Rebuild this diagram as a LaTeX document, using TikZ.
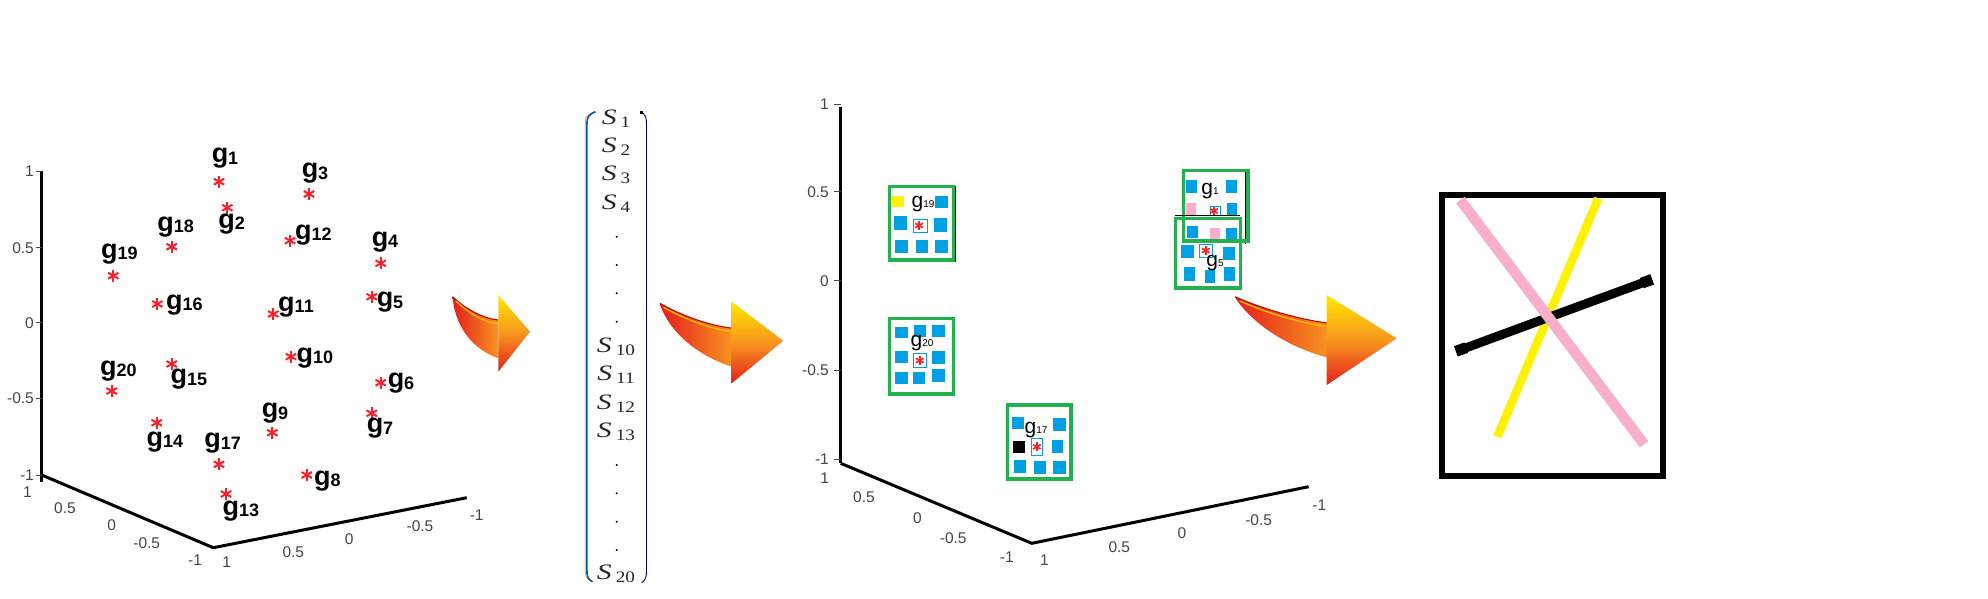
\documentclass[tikz,border=0pt]{standalone}
\usepackage{graphicx}
\usepackage{fontspec}
\setmainfont{Liberation Serif}
\newfontfamily\arialf{Liberation Sans}
\definecolor{sqblue}{RGB}{0,160,227}
\definecolor{boxgreen}{RGB}{34,177,76}
\definecolor{pinkc}{RGB}{249,174,203}
\definecolor{yelc}{RGB}{255,242,0}
\definecolor{starred}{RGB}{255,30,40}
\definecolor{arrred}{RGB}{228,30,30}
\definecolor{arrorange}{RGB}{248,150,30}
\definecolor{arryellow}{RGB}{255,232,0}
\definecolor{tickgray}{RGB}{70,70,70}
\definecolor{parblue}{RGB}{0,90,180}
\newcommand\starlines[2]{%
  \foreach \ang in {90,30,150}{\draw[starred,line width=#2]
    ([shift={(\ang:#1)}]path picture bounding box.center) --
    ([shift={(\ang+180:#1)}]path picture bounding box.center);}}
\newcommand\gtxt[1]{{\fontsize{27}{27}\selectfont g}{\fontsize{18}{18}\selectfont\raisebox{-1.5pt}{#1}}}
\newcommand\gsm[1]{{\fontsize{21}{21}\selectfont g}{\fontsize{10}{10}\selectfont #1}}
\newcommand\sent[1]{{\fontsize{22}{22}\selectfont\scalebox{1.35}[1]{\itshape S}}\hspace{4pt}{\fontsize{16}{16}\selectfont\raisebox{-3pt}{\scalebox{1.2}[1]{#1}}}}
\tikzset{
  axisline/.style={line width=3pt, black},
  ticklab/.style={inner sep=0pt, text=tickgray, font=\arialf\fontsize{15.5}{15.5}\selectfont},
  tickmark/.style={line width=0.8pt, tickgray},
  glabel/.style={inner sep=0pt, font=\arialf\bfseries},
  gsmall/.style={inner sep=0pt, font=\arialf},
  bigstar/.style={circle, inner sep=0pt, minimum size=13pt, path picture={\starlines{6pt}{2pt}}},
  tinystar/.style={rectangle, inner sep=0pt, minimum size=9pt, path picture={\starlines{4.5pt}{1.6pt}}},
  centbox/.style={draw=sqblue, line width=1pt},
  gbox/.style={draw=boxgreen, line width=3.4pt},
  sent/.style={inner sep=0pt, text=black!85},
  arrowshaft/.style={left color=arrred, right color=arrorange},
  arrowhead/.style={top color=arryellow, bottom color=arrred, middle color=arrorange},
  arrowshine/.style={line width=1.3pt, arryellow!60!orange, line cap=round},
  arrowedge/.style={line width=1pt, red!75!black},
}
\begin{document}
\begin{tikzpicture}[x=1pt,y=-1pt]
\useasboundingbox (0,0) rectangle (1988,598);
\fill[white] (0,0) rectangle (1988,598);

%% ---------------- Panel 1 ----------------
\coordinate (p1top) at (41.7,171);
\coordinate (p1bot) at (41.7,482);
\coordinate (p1l) at (41.7,475);
\coordinate (p1c) at (213.3,547.7);
\coordinate (p1r) at (466.7,497.7);
\draw[axisline] (p1top) -- (p1bot);
\draw[axisline] (p1l) -- (p1c) -- (p1r);
\foreach \t/\y in {1/171,0.5/247.7,0/322.7,-0.5/398,-1/475}{
  \draw[tickmark] (36,\y) -- (41.7,\y);
  \node[ticklab, anchor=east] at (34,\y) {\t};
}
\foreach \t/\x/\y in {1/27.5/492,0.5/65/508.3,0/111.7/525,-0.5/146.7/543.3,-1/195/560}{
  \node[ticklab] at (\x,\y) {\t};
}
\foreach \t/\x/\y in {1/226.7/561.7,0.5/293.3/551.7,0/349.3/539,-0.5/420/526,-1/476.7/515}{
  \node[ticklab] at (\x,\y) {\t};
}
\foreach \i/\sx/\sy/\lx/\ly in {
  1/219/181.7/225/158.3, 2/227.3/207.7/231.7/224, 3/309/194/315/173.3,
  4/380.7/263.3/385/241.7, 5/371.7/296.7/390/302.3, 6/380.7/382.7/401/383.3,
  7/371.7/413.3/380/428.3, 8/306.7/475/327.3/480.7, 9/272.3/432.7/275/413.3,
  10/291/356.7/315/357.7, 11/273.3/314/296/306.7, 12/290/240.7/313.3/235,
  13/226/494/241/510.7, 14/156.7/422.7/165/441.7, 15/171.7/364/189/379.3,
  16/157.3/304/184.3/305, 17/219/464.3/222.7/443.3, 18/171.7/246.7/175.7/226.7,
  19/113.3/275.7/119.3/254, 20/111.7/391/118.3/370.7}{
  \node[bigstar] (st\i) at (\sx,\sy) {};
  \node[glabel] (gl\i) at (\lx,\ly) {\gtxt{\i}};
}

%% ---------------- Arrow 1 ----------------
\path[arrowshaft] (452.7,296.7) .. controls (462,306) and (480,318) .. (498.3,320)
  -- (498.3,358.3) .. controls (475,350) and (456,330) .. (452.7,298.5) -- cycle;
\draw[arrowedge] (452.7,296.7) .. controls (462,306) and (480,318) .. (498.3,320);
\draw[arrowshine] (456,301) .. controls (465,310) and (481,321.5) .. (497,323.5);
\path[arrowhead] (498.3,295) -- (530,331.7) -- (498.3,371.7) -- cycle;

%% ---------------- Matrix ----------------
\draw[orange!80, line width=0.8pt] (594.5,111.7) .. controls (586,115) and (585.2,118) .. (585.2,125)
  -- (585.2,570) .. controls (585.2,576) and (586,579) .. (591.5,581.7);
\draw[parblue, line width=1.6pt] (595.5,111.7) .. controls (587.5,115) and (586.9,118) .. (586.9,125)
  -- (586.9,570) .. controls (586.9,576) and (587.5,579) .. (592.5,581.7);
\draw[blue!50!black, line width=0.9pt] (640,111.7) .. controls (646,114) and (646.5,118) .. (646.5,125)
  -- (646.5,570) .. controls (646.5,576) and (646,580) .. (641.7,582.7);
\fill[black] (640,110.5) rectangle (642.5,113.5);
\foreach \lab/\y in {1/118.3,2/146.7,3/175,4/203.3,10/346.7,11/375,12/403.3,13/431.7,20/573.3}{
  \node[sent] (se\lab) at (616,\y) {\sent{\lab}};
}
\foreach \y in {236.7,265,293.3,321.7,465,493.3,521.7,550}{
  \fill[black] (616.7,\y) circle (1.1pt);
}

%% ---------------- Arrow 2 ----------------
\path[arrowshaft] (660,303.3) .. controls (680,315) and (710,326) .. (733.3,328.3)
  -- (731.7,366.7) .. controls (700,356) and (672,336) .. (660,305) -- cycle;
\draw[arrowedge] (660,303.3) .. controls (680,315) and (710,326) .. (733.3,328.3);
\draw[arrowshine] (664,307.5) .. controls (683,318.5) and (711,329) .. (731,331.5);
\path[arrowhead] (731.7,301.7) -- (783.3,340.7) -- (731.7,383.3) -- cycle;

%% ---------------- Panel 3 ----------------
\draw[axisline] (840.7,106.7) -- (840.7,463.3);
\draw[axisline] (840.7,463.3) -- (1031.8,543.3) -- (1308.6,486.7);
\foreach \t/\y in {1/104,0.5/191.7,0/280.7,-0.5/370,-1/459.3}{
  \draw[tickmark] (834,\y) -- (840.7,\y);
  \node[ticklab, anchor=east] at (829,\y) {\t};
}
\foreach \t/\x/\y in {1/824.6/478.3,0.5/863.9/497.3,0/917.5/518.3,-0.5/953.2/538.3,-1/1006.8/556.7}{
  \node[ticklab] at (\x,\y) {\t};
}
\foreach \t/\x/\y in {1/1044.3/560,0.5/1119.3/547.3,0/1181.8/533.3,-0.5/1258.6/520,-1/1319.3/505}{
  \node[ticklab] at (\x,\y) {\t};
}

% box g19
\fill[yelc] (892.3,196) rectangle (904.3,207.3);
\fill[sqblue] (935.3,196) rectangle (948,207.7);
\fill[sqblue] (894.3,216.3) rectangle (907,229.7);
\fill[sqblue] (934,218.3) rectangle (946.7,231.7);
\fill[sqblue] (895.3,240) rectangle (907.7,253.3);
\fill[sqblue] (916,240) rectangle (928.3,253.3);
\fill[sqblue] (935.3,240) rectangle (948,253.3);
\draw[centbox] (913.3,219.3) rectangle (927.7,232.3);
\node[tinystar] (c19) at (919,225.5) {};
\node[gsmall] (b19) at (923,204) {\gsm{19}};
\draw[black, line width=0.8pt] (955.6,185.5) -- (955.6,262);
\draw[gbox] (889.4,186.7) rectangle (953.3,260);

% box g20
\fill[sqblue] (895,327.3) rectangle (907.7,338.3);
\fill[sqblue] (914,325) rectangle (926,337.3);
\fill[sqblue] (932.3,325) rectangle (945,337.3);
\fill[sqblue] (895,351) rectangle (907.7,363.3);
\fill[sqblue] (932.3,351) rectangle (945,364);
\fill[sqblue] (895,371.7) rectangle (907.7,384.3);
\fill[sqblue] (913.3,371.7) rectangle (925,384.3);
\fill[sqblue] (932.3,369) rectangle (945,382.3);
\draw[centbox] (913.3,353.3) rectangle (926,367.3);
\node[tinystar] (c20) at (919.7,360.5) {};
\node[gsmall] (b20) at (922,343) {\gsm{20}};
\draw[gbox] (889.4,318.4) rectangle (953.3,394);

% box g17
\fill[sqblue] (1012.3,416.7) rectangle (1024.3,429.3);
\fill[sqblue] (1053.3,418.3) rectangle (1066,430.7);
\fill[black] (1012.7,441) rectangle (1025.3,453.3);
\fill[sqblue] (1051.7,440) rectangle (1063.3,452.7);
\fill[sqblue] (1014,460) rectangle (1026,472.7);
\fill[sqblue] (1034,461) rectangle (1046,474);
\fill[sqblue] (1052.7,461) rectangle (1066,474);
\draw[centbox] (1031,438.3) rectangle (1042.7,455);
\node[tinystar] (c17) at (1036.8,446.8) {};
\node[gsmall] (b17) at (1036,430) {\gsm{17}};
\draw[black, line width=0.8pt] (1069.5,405) -- (1069.5,479);
\draw[gbox] (1007.7,405) rectangle (1071,479);

% box g1 content
\fill[sqblue] (1186,180) rectangle (1196.7,192.7);
\fill[sqblue] (1226,180) rectangle (1236.7,193.3);
\fill[pinkc] (1186,203.3) rectangle (1196,215.7);
\fill[sqblue] (1227.3,202.7) rectangle (1237.3,215.7);
\draw[centbox] (1210,206) rectangle (1220,215.7);
\node[tinystar] (c1) at (1214,211) {};
\node[gsmall] (b1) at (1210,191) {\gsm{1}};
% box g5 content
\fill[sqblue] (1187.3,226) rectangle (1197.7,237.7);
\fill[pinkc] (1210,228.3) rectangle (1220,240.7);
\fill[sqblue] (1226,228.3) rectangle (1236.7,240.7);
\fill[sqblue] (1181,245) rectangle (1194,257.7);
\fill[sqblue] (1222.7,247.3) rectangle (1235,260);
\fill[sqblue] (1184,267.3) rectangle (1195,280.7);
\fill[sqblue] (1205,270) rectangle (1215,282.7);
\fill[sqblue] (1224,267.3) rectangle (1235,280.7);
\draw[centbox] (1199.3,244.3) rectangle (1212.3,257.3);
\node[tinystar] (c5) at (1205.8,250.5) {};
\node[gsmall] (b5) at (1215,263) {\gsm{5}};
% box frames
\draw[black, line width=1pt] (1245.6,171) -- (1245.6,244);
\draw[gbox] (1183.4,170.7) rectangle (1247.8,241);
\draw[black, line width=1pt] (1175,215.8) -- (1239.5,215.8);
\draw[gbox] (1175.7,218.4) rectangle (1240.3,288);

%% ---------------- Arrow 3 ----------------
\path[arrowshaft] (1235,296.7) .. controls (1260,308) and (1300,320) .. (1330,323.3)
  -- (1330,358.3) .. controls (1290,348) and (1255,326) .. (1236.7,300) -- cycle;
\draw[arrowedge] (1235,296.7) .. controls (1260,308) and (1300,320) .. (1330,323.3);
\draw[arrowshine] (1240,301) .. controls (1264,312) and (1301,323.5) .. (1328,326.5);
\path[arrowhead] (1326.7,295) -- (1396.7,338.3) -- (1326.7,385) -- cycle;

%% ---------------- Panel 4 ----------------
\draw[black, line width=5.7pt] (1442.2,195.2) rectangle (1662.8,476.2);
\draw[yelc, line width=8.5pt] (1598.3,198.3) -- (1497.3,436.7);
\draw[black, line width=9pt] (1460,350) -- (1648.3,280.7);
\node[fill=black, minimum size=11pt, inner sep=0pt, rotate=20] (bl1) at (1461,349.5) {};
\node[fill=black, minimum size=11pt, inner sep=0pt, rotate=20] (bl2) at (1647,281.2) {};
\draw[pinkc, line width=10.5pt] (1460.3,200) -- (1644,444.3);
\end{tikzpicture}
\end{document}
